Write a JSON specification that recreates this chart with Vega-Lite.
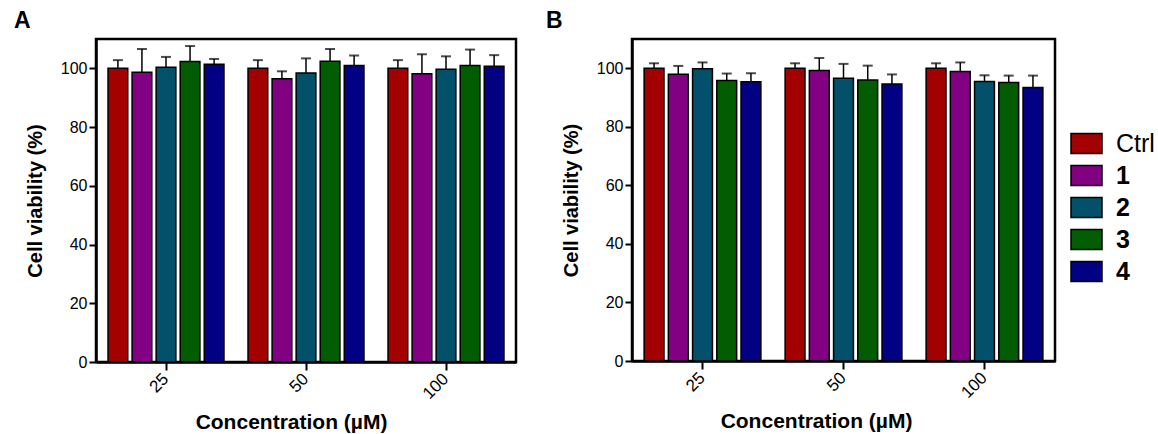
{
  "$schema": "https://vega.github.io/schema/vega-lite/v6.json",
  "padding": {"left": 12, "top": 8, "right": 5, "bottom": 5},
  "background": "white",
  "config": {
    "font": "Liberation Sans",
    "view": {"stroke": "black", "strokeWidth": 2.5},
    "axis": {
      "domainColor": "black", "domainWidth": 2.5, "tickColor": "black", "tickWidth": 2, "tickSize": 7,
      "labelColor": "black", "labelFontSize": 16, "labelFont": "Liberation Sans", "grid": false,
      "titleFont": "Liberation Sans", "titleFontSize": 20, "titleFontWeight": "bold", "titleColor": "black"
    },
    "legend": {
      "symbolType": "M-1,-0.65L1,-0.65L1,0.65L-1,0.65Z", "symbolSize": 961,
      "symbolStrokeColor": "black", "symbolStrokeWidth": 1.5,
      "labelFontSize": 25, "labelFont": "Liberation Sans", "labelColor": "black", "labelOffset": 13,
      "rowPadding": 2
    },
    "title": {"font": "Liberation Sans", "fontSize": 23, "fontWeight": "bold", "color": "black", "anchor": "start", "frame": "group", "baseline": "alphabetic", "offset": 6}
  },
  "data": {"values": [
    {"panel": "A", "conc": "25", "group": "Ctrl", "value": 100.0, "hi": 102.8},
    {"panel": "A", "conc": "25", "group": "1", "value": 98.7, "hi": 106.6},
    {"panel": "A", "conc": "25", "group": "2", "value": 100.4, "hi": 103.9},
    {"panel": "A", "conc": "25", "group": "3", "value": 102.3, "hi": 107.6},
    {"panel": "A", "conc": "25", "group": "4", "value": 101.4, "hi": 103.2},
    {"panel": "A", "conc": "50", "group": "Ctrl", "value": 100.0, "hi": 102.8},
    {"panel": "A", "conc": "50", "group": "1", "value": 96.5, "hi": 99.0},
    {"panel": "A", "conc": "50", "group": "2", "value": 98.4, "hi": 103.4},
    {"panel": "A", "conc": "50", "group": "3", "value": 102.4, "hi": 106.6},
    {"panel": "A", "conc": "50", "group": "4", "value": 101.0, "hi": 104.4},
    {"panel": "A", "conc": "100", "group": "Ctrl", "value": 100.0, "hi": 102.8},
    {"panel": "A", "conc": "100", "group": "1", "value": 98.2, "hi": 104.8},
    {"panel": "A", "conc": "100", "group": "2", "value": 99.7, "hi": 104.1},
    {"panel": "A", "conc": "100", "group": "3", "value": 101.0, "hi": 106.4},
    {"panel": "A", "conc": "100", "group": "4", "value": 100.7, "hi": 104.5},
    {"panel": "B", "conc": "25", "group": "Ctrl", "value": 100.0, "hi": 101.7},
    {"panel": "B", "conc": "25", "group": "1", "value": 98.0, "hi": 100.8},
    {"panel": "B", "conc": "25", "group": "2", "value": 99.8, "hi": 102.0},
    {"panel": "B", "conc": "25", "group": "3", "value": 95.8, "hi": 98.2},
    {"panel": "B", "conc": "25", "group": "4", "value": 95.4, "hi": 98.3},
    {"panel": "B", "conc": "50", "group": "Ctrl", "value": 100.0, "hi": 101.7},
    {"panel": "B", "conc": "50", "group": "1", "value": 99.2, "hi": 103.5},
    {"panel": "B", "conc": "50", "group": "2", "value": 96.6, "hi": 101.5},
    {"panel": "B", "conc": "50", "group": "3", "value": 96.0, "hi": 100.9},
    {"panel": "B", "conc": "50", "group": "4", "value": 94.6, "hi": 97.9},
    {"panel": "B", "conc": "100", "group": "Ctrl", "value": 100.0, "hi": 101.7},
    {"panel": "B", "conc": "100", "group": "1", "value": 98.9, "hi": 102.0},
    {"panel": "B", "conc": "100", "group": "2", "value": 95.5, "hi": 97.6},
    {"panel": "B", "conc": "100", "group": "3", "value": 95.1, "hi": 97.5},
    {"panel": "B", "conc": "100", "group": "4", "value": 93.4, "hi": 97.5}
  ]},
  "spacing": 26,
  "hconcat": [
    {
      "title": {"text": "A", "dx": -82},
      "width": 420, "height": 323,
      "transform": [{"filter": "datum.panel === 'A'"}],
      "encoding": {
        "x": {"field": "conc", "type": "nominal", "sort": ["25", "50", "100"], "scale": {"paddingInner": 0, "paddingOuter": 0},
              "axis": {"title": "Concentration (µM)", "labelAngle": -45, "labelAlign": "right", "labelBaseline": "middle", "labelPadding": 6, "labelFontSize": 17, "tickSize": 8, "titlePadding": 10, "titleFontSize": 21, "titleX": 195}},
        "xOffset": {"field": "group", "type": "nominal", "sort": ["Ctrl", "1", "2", "3", "4"], "scale": {"paddingInner": 0.18, "paddingOuter": 0.5}}
      },
      "layer": [
        {"mark": {"type": "rule", "color": "black", "strokeWidth": 1.5},
         "encoding": {"y": {"field": "value", "type": "quantitative"}, "y2": {"field": "hi"}}},
        {"mark": {"type": "tick", "color": "black", "thickness": 2, "size": 10},
         "encoding": {"y": {"field": "hi", "type": "quantitative"}}},
        {"mark": {"type": "bar", "stroke": "black", "strokeWidth": 1.5},
         "encoding": {
           "y": {"field": "value", "type": "quantitative", "scale": {"domain": [0, 110], "nice": false},
                 "axis": {"title": "Cell viability (%)", "values": [0, 20, 40, 60, 80, 100], "titlePadding": 15}},
           "color": {"field": "group", "type": "nominal", "sort": ["Ctrl", "1", "2", "3", "4"],
                     "scale": {"domain": ["Ctrl", "1", "2", "3", "4"], "range": ["#A30000", "#820082", "#03506A", "#025C02", "#020183"]},
                     "legend": {"title": null, "orient": "none", "legendX": 974, "legendY": 88,
                                "encode": {"labels": {"update": {"fontWeight": {"signal": "datum.label === 'Ctrl' ? 'normal' : 'bold'"}}}}}}
         }}
      ]
    },
    {
      "title": {"text": "B", "dx": -86},
      "width": 423, "height": 322,
      "transform": [{"filter": "datum.panel === 'B'"}],
      "encoding": {
        "x": {"field": "conc", "type": "nominal", "sort": ["25", "50", "100"], "scale": {"paddingInner": 0, "paddingOuter": 0},
              "axis": {"title": "Concentration (µM)", "labelAngle": -45, "labelAlign": "right", "labelBaseline": "middle", "labelPadding": 6, "labelFontSize": 17, "tickSize": 8, "titlePadding": 10, "titleFontSize": 21, "titleX": 184}},
        "xOffset": {"field": "group", "type": "nominal", "sort": ["Ctrl", "1", "2", "3", "4"], "scale": {"paddingInner": 0.18, "paddingOuter": 0.5}}
      },
      "layer": [
        {"mark": {"type": "rule", "color": "black", "strokeWidth": 1.5},
         "encoding": {"y": {"field": "value", "type": "quantitative"}, "y2": {"field": "hi"}}},
        {"mark": {"type": "tick", "color": "black", "thickness": 2, "size": 10},
         "encoding": {"y": {"field": "hi", "type": "quantitative"}}},
        {"mark": {"type": "bar", "stroke": "black", "strokeWidth": 1.5},
         "encoding": {
           "y": {"field": "value", "type": "quantitative", "scale": {"domain": [0, 110], "nice": false},
                 "axis": {"title": "Cell viability (%)", "values": [0, 20, 40, 60, 80, 100], "titlePadding": 15}},
           "color": {"field": "group", "type": "nominal", "sort": ["Ctrl", "1", "2", "3", "4"]}
         }}
      ]
    }
  ],
  "resolve": {"scale": {"y": "independent", "x": "independent", "xOffset": "independent"}}
}
